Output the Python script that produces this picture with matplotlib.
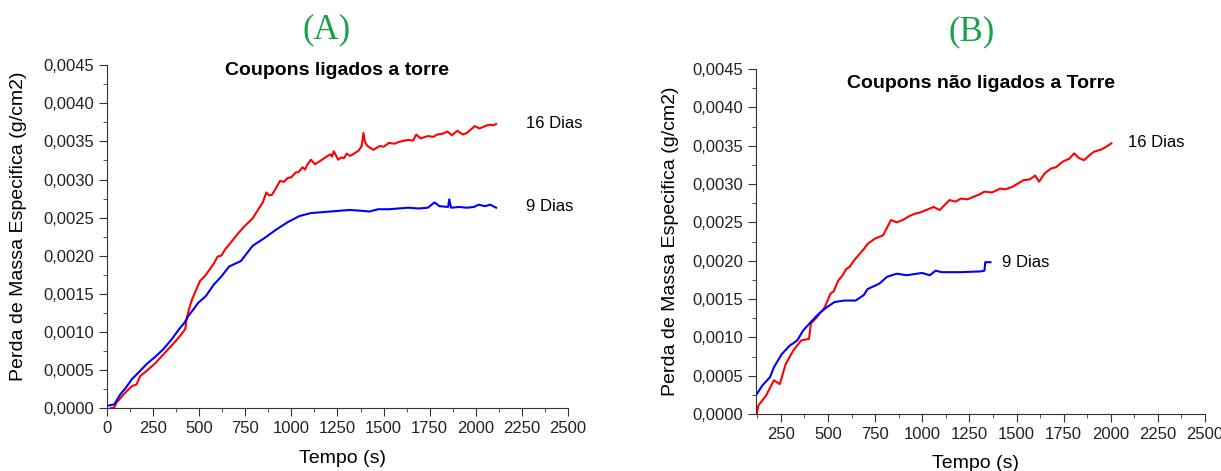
import matplotlib
matplotlib.use("Agg")
import matplotlib.pyplot as plt
from matplotlib.ticker import MultipleLocator, FuncFormatter

plt.rcParams['font.family'] = ['Liberation Sans', 'DejaVu Sans']

# Painel A - coupons ligados a torre
a16_t = [20, 40, 51, 90, 135, 160, 180, 220, 262, 300, 346, 380, 410, 425, 431, 445, 462,
         485, 505, 530, 557, 580, 600, 620, 640, 684, 710, 747, 790, 821, 845, 864, 880,
         895, 915, 938, 960, 980, 1000, 1022, 1040, 1060, 1075, 1085, 1106, 1128, 1160,
         1190, 1212, 1220, 1230, 1254, 1270, 1285, 1300, 1318, 1340, 1365, 1381, 1391,
         1398, 1412, 1444, 1480, 1500, 1529, 1560, 1580, 1610, 1634, 1660, 1677, 1700,
         1740, 1770, 1790, 1820, 1846, 1870, 1900, 1930, 1951, 1975, 1994, 2020, 2040,
         2060, 2080, 2095, 2110]
a16_y = [0.0, 0.00001, 0.00007, 0.00018, 0.00029, 0.00031, 0.00042, 0.00050, 0.00059,
         0.00069, 0.00081, 0.00090, 0.00099, 0.00104, 0.00116, 0.00130, 0.00143,
         0.00156, 0.00167, 0.00173, 0.00182, 0.00190, 0.00199, 0.00200, 0.00208,
         0.00221, 0.00229, 0.00239, 0.00249, 0.00261, 0.00270, 0.00283, 0.00279,
         0.00280, 0.00288, 0.00298, 0.00297, 0.00302, 0.00303, 0.00309, 0.00310,
         0.00316, 0.00313, 0.00319, 0.00326, 0.00320, 0.00325, 0.00330, 0.00333,
         0.00330, 0.00337, 0.00326, 0.00329, 0.00328, 0.00334, 0.00331, 0.00334,
         0.00338, 0.00344, 0.00361, 0.00350, 0.00344, 0.00339, 0.00344, 0.00343,
         0.00348, 0.00347, 0.00349, 0.00351, 0.00352, 0.00351, 0.00359, 0.00354,
         0.00357, 0.00356, 0.00359, 0.00360, 0.00363, 0.00358, 0.00364, 0.00359,
         0.00361, 0.00366, 0.00370, 0.00367, 0.00369, 0.00371, 0.00372, 0.00371,
         0.00373]
a9_t = [0, 40, 72, 100, 135, 180, 220, 260, 304, 350, 389, 420, 441, 470, 494, 536, 579,
        621, 663, 726, 790, 853, 916, 980, 1043, 1106, 1160, 1212, 1260, 1318, 1380,
        1423, 1470, 1529, 1580, 1634, 1690, 1740, 1776, 1803, 1850, 1856, 1866, 1910,
        1951, 1990, 2015, 2050, 2078, 2110]
a9_y = [0.00003, 0.00005, 0.00018, 0.00026, 0.00038, 0.00049, 0.00059, 0.00067,
        0.00077, 0.00090, 0.00103, 0.00112, 0.00121, 0.00130, 0.00138, 0.00147,
        0.00162, 0.00173, 0.00186, 0.00193, 0.00213, 0.00223, 0.00234, 0.00244,
        0.00252, 0.00256, 0.00257, 0.00258, 0.00259, 0.00260, 0.00259, 0.00258,
        0.00261, 0.00261, 0.00262, 0.00263, 0.00262, 0.00263, 0.00270, 0.00265,
        0.00264, 0.00274, 0.00263, 0.00264, 0.00263, 0.00264, 0.00267, 0.00265,
        0.00267, 0.00263]

# Painel B - coupons nao ligados a torre
b16_t = [122, 130, 171, 213, 244, 275, 316, 358, 399, 409, 440, 482, 513, 530, 554, 575,
         596, 615, 637, 668, 690, 710, 751, 792, 834, 865, 896, 930, 958, 990, 1020, 1061,
         1092, 1144, 1175, 1206, 1240, 1268, 1300, 1330, 1370, 1413, 1440, 1475, 1510,
         1537, 1570, 1599, 1620, 1650, 1682, 1710, 1744, 1780, 1806, 1830, 1858, 1885,
         1910, 1950, 1972, 2003]
b16_y = [0.0, 0.00011, 0.00024, 0.00044, 0.00039, 0.00065, 0.00083, 0.00096, 0.00098,
         0.00118, 0.00126, 0.00139, 0.00157, 0.00160, 0.00174, 0.00180, 0.00189,
         0.00192, 0.00200, 0.00209, 0.00215, 0.00222, 0.00229, 0.00233, 0.00253,
         0.00250, 0.00253, 0.00258, 0.00261, 0.00263, 0.00266, 0.00270, 0.00266,
         0.00279, 0.00277, 0.00281, 0.00280, 0.00283, 0.00286, 0.00290, 0.00289,
         0.00294, 0.00293, 0.00296, 0.00301, 0.00305, 0.00306, 0.00311, 0.00303,
         0.00314, 0.00320, 0.00322, 0.00329, 0.00333, 0.00340, 0.00334, 0.00331,
         0.00337, 0.00342, 0.00345, 0.00348, 0.00353]
b9_t = [122, 151, 192, 213, 254, 296, 337, 368, 409, 451, 492, 534, 585, 647, 689, 710,
        772, 813, 865, 917, 999, 1040, 1071, 1102, 1206, 1310, 1330, 1334, 1362]
b9_y = [0.00026, 0.00037, 0.00048, 0.00061, 0.00078, 0.00089, 0.00096, 0.00109,
        0.00120, 0.00131, 0.00139, 0.00146, 0.00148, 0.00148, 0.00155, 0.00163,
        0.00170, 0.00179, 0.00183, 0.00181, 0.00184, 0.00181, 0.00187, 0.00185,
        0.00185, 0.00186, 0.00187, 0.00198, 0.00198]

fig = plt.figure(figsize=(12.21, 4.71), dpi=100)
axA = fig.add_axes([0.0876, 0.1334, 0.3776, 0.7282])
axB = fig.add_axes([0.6192, 0.1210, 0.3677, 0.7325])

comma = FuncFormatter(lambda v, p: f"{v:.4f}".replace('.', ','))

def style(ax, xmin):
    ax.set_xlim(xmin, 2500)
    ax.set_ylim(0, 0.0045)
    for s in ['top', 'right']:
        ax.spines[s].set_visible(False)
    for s in ['left', 'bottom']:
        ax.spines[s].set_color('#333333')
    ax.xaxis.set_major_locator(MultipleLocator(250))
    ax.xaxis.set_minor_locator(MultipleLocator(125))
    ax.yaxis.set_major_locator(MultipleLocator(0.0005))
    ax.yaxis.set_minor_locator(MultipleLocator(0.00025))
    ax.yaxis.set_major_formatter(comma)
    ax.tick_params(which='major', length=6, color='#333333', labelsize=12,
                   labelcolor='#222222')
    ax.tick_params(which='minor', length=3, color='#333333')
    ax.set_xlabel('Tempo (s)', fontsize=14)
    ax.set_ylabel('Perda de Massa Especifica (g/cm2)', fontsize=14)

style(axA, 0)
style(axB, 118)

axA.plot(a16_t, a16_y, color='#ff0000', lw=1.5)
axA.plot(a9_t, a9_y, color='#0000ff', lw=1.5)
axB.plot(b16_t, b16_y, color='#ff0000', lw=1.5)
axB.plot(b9_t, b9_y, color='#0000ff', lw=1.5)

axA.xaxis.set_label_coords(0.51, -0.122)
axA.yaxis.set_label_coords(-0.174, 0.53)
axB.xaxis.set_label_coords(0.488, -0.119)
axB.yaxis.set_label_coords(-0.171, 0.50)

axA.text(0.5, 0.985, 'Coupons ligados a torre', transform=axA.transAxes,
         ha='center', va='center', fontsize=14, fontweight='bold')
axB.text(0.5, 0.957, 'Coupons não ligados a Torre', transform=axB.transAxes,
         ha='center', va='center', fontsize=14, fontweight='bold')

axA.text(2270, a16_y[-1], '16 Dias', fontsize=12, va='center')
axA.text(2270, a9_y[-1] + 0.00001, '9 Dias', fontsize=12, va='center')
axB.text(2090, b16_y[-1] + 0.00001, '16 Dias', fontsize=12, va='center')
axB.text(1425, b9_y[-1], '9 Dias', fontsize=12, va='center')

fig.text(327 / 1221, 1 - 30 / 471, '(A)', color='#1aa04a', fontsize=25,
         family='Liberation Serif', ha='center', va='center')
fig.text(972 / 1221, 1 - 32 / 471, '(B)', color='#1aa04a', fontsize=25,
         family='Liberation Serif', ha='center', va='center')

fig.savefig('out.png', dpi=100)
